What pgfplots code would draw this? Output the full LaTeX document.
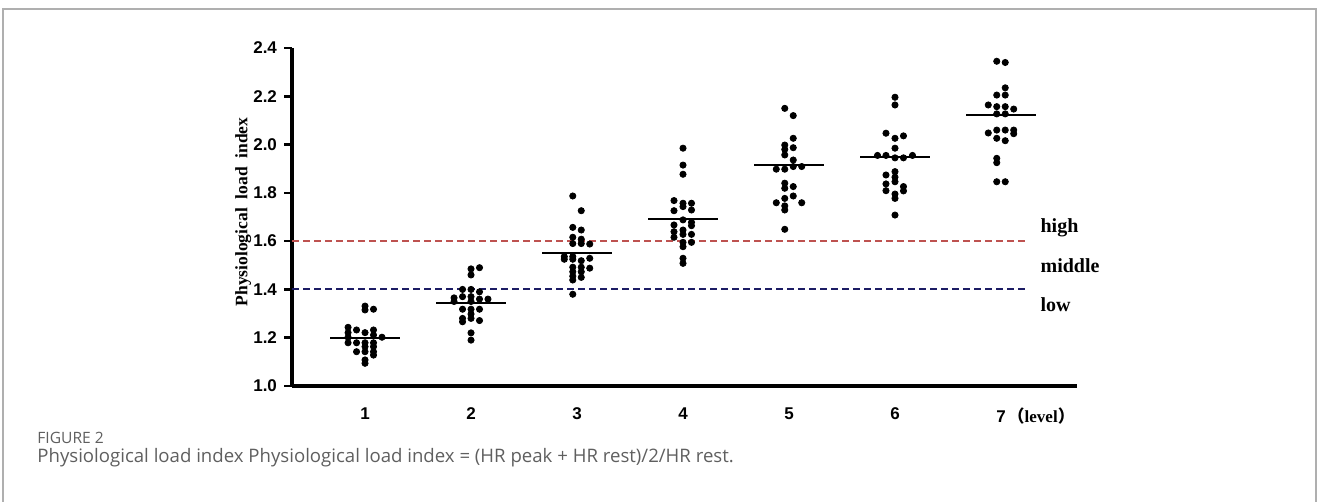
\documentclass[border=0pt]{standalone}
\usepackage{pgfplots}
\pgfplotsset{compat=1.18}
\usepackage{pgfplotstable}
\usepackage{fontspec}
\setmainfont{Liberation Serif}
\setsansfont{Liberation Sans}
\newfontfamily\capfont{Open Sans}
\newfontfamily\cjk{Noto Sans CJK SC}
\definecolor{highred}{RGB}{190,82,80}
\definecolor{lownavy}{RGB}{28,28,100}
\definecolor{capgray}{RGB}{95,95,95}
\definecolor{framegray}{RGB}{175,175,175}

\pgfplotstableread{
x y
1.00 1.331
1.00 1.315
1.08 1.318
0.84 1.243
0.92 1.232
1.08 1.232
0.84 1.221
1.00 1.221
1.08 1.211
0.84 1.202
1.16 1.202
0.84 1.179
0.92 1.179
1.00 1.179
1.08 1.179
1.00 1.163
1.08 1.163
0.92 1.142
1.00 1.142
1.08 1.142
1.08 1.128
1.00 1.108
1.00 1.094
}\gone
\pgfplotstableread{
x y
2.00 1.485
2.00 1.460
2.08 1.490
1.92 1.400
2.00 1.400
2.08 1.390
1.84 1.365
1.92 1.370
2.00 1.370
1.84 1.350
2.00 1.350
2.08 1.360
2.16 1.360
1.92 1.318
2.00 1.318
2.08 1.318
2.00 1.298
1.92 1.280
2.00 1.280
1.92 1.266
2.08 1.271
2.00 1.220
2.00 1.190
}\gtwo
\pgfplotstableread{
x y
2.96 1.787
3.04 1.726
2.96 1.657
3.04 1.646
2.96 1.616
3.04 1.608
2.96 1.590
3.04 1.590
3.12 1.588
2.88 1.536
2.88 1.525
2.96 1.536
2.96 1.525
3.04 1.519
3.12 1.529
2.96 1.492
3.04 1.492
3.12 1.488
2.96 1.473
3.04 1.473
2.96 1.455
3.04 1.450
2.96 1.439
2.96 1.380
}\gthree
\pgfplotstableread{
x y
4.00 1.985
4.00 1.915
4.00 1.877
3.915 1.768
4.00 1.757
4.08 1.757
4.00 1.743
3.915 1.726
4.08 1.729
4.00 1.688
4.08 1.678
4.08 1.664
3.915 1.667
4.00 1.646
3.915 1.639
4.00 1.628
4.08 1.628
3.915 1.616
4.00 1.595
4.08 1.595
4.00 1.577
4.00 1.529
4.00 1.508
}\gfour
\pgfplotstableread{
x y
4.96 2.150
5.04 2.120
5.04 2.026
4.96 1.998
5.04 1.987
4.96 1.980
4.96 1.957
5.04 1.936
4.88 1.898
4.96 1.898
5.04 1.909
5.12 1.909
4.96 1.840
4.96 1.819
5.04 1.826
4.88 1.759
4.96 1.777
4.96 1.746
5.04 1.787
5.12 1.759
4.96 1.729
4.96 1.649
}\gfive
\pgfplotstableread{
x y
6.00 2.196
6.00 2.164
5.915 2.047
6.08 2.036
6.00 2.026
6.00 1.985
5.835 1.955
5.915 1.955
6.00 1.945
6.08 1.945
6.165 1.955
6.00 1.888
5.915 1.874
6.00 1.865
6.00 1.846
5.915 1.837
6.08 1.826
5.915 1.809
6.08 1.808
6.00 1.795
6.00 1.777
6.00 1.708
}\gsix
\pgfplotstableread{
x y
6.96 2.345
7.04 2.340
7.04 2.235
6.96 2.205
7.04 2.205
6.88 2.164
6.96 2.157
7.04 2.157
7.12 2.147
6.96 2.127
7.04 2.127
6.88 2.048
6.96 2.060
7.04 2.060
7.12 2.060
7.12 2.045
6.96 2.026
7.04 2.016
6.96 1.943
6.96 1.925
6.96 1.846
7.04 1.846
}\gseven

\begin{document}
\begin{tikzpicture}
\useasboundingbox (0,0) rectangle (659.5pt,251pt);
\draw[framegray, line width=0.75pt] (1.5pt,0) -- (1.5pt,246.5pt) -- (658pt,246.5pt) -- (658pt,0);
\begin{axis}[
  at={(146pt,58pt)}, anchor=south west,
  scale only axis, width=392.5pt, height=169pt,
  xmin=0.311, xmax=7.717, ymin=1.0, ymax=2.4,
  axis lines=left,
  axis line style={line width=1.7pt, -},
  clip=false,
  xtick={1,2,3,4,5,6,7},
  xticklabels={1,2,3,4,5,6,{7\rlap{\hspace{1pt}{\cjk （}{\rmfamily\bfseries\fontsize{8.5}{10}\selectfont level}{\cjk ）}}}},
  ytick={1.0,1.2,1.4,1.6,1.8,2.0,2.2,2.4},
  x tick style={draw=none},
  y tick style={line width=1.3pt, black},
  major tick length=4pt,
  tick align=outside,
  /pgf/number format/.cd, fixed, fixed zerofill, precision=1, assume math mode=true,
  /pgfplots/.cd,
  yticklabel style={font=\sffamily\bfseries\fontsize{8.5}{10}\selectfont, xshift=0pt},
  xticklabel style={font=\sffamily\bfseries\fontsize{8.5}{10}\selectfont, yshift=-3.5pt},
  ylabel={Physiological~~load~~index},
  ylabel style={font=\rmfamily\bfseries\fontsize{8.75}{10}\selectfont, at={(axis description cs:-0.062,0.515)}, anchor=center},
]
\addplot[highred, line width=1pt, dash pattern=on 3.5pt off 2pt] coordinates {(0.311,1.6) (7.245,1.6)};
\addplot[lownavy, line width=1pt, dash pattern=on 3.5pt off 2pt] coordinates {(0.311,1.4) (7.245,1.4)};
\addplot[only marks, mark=*, mark size=1.55pt, black] table[x=x,y=y] {\gone};
\addplot[only marks, mark=*, mark size=1.55pt, black] table[x=x,y=y] {\gtwo};
\addplot[only marks, mark=*, mark size=1.55pt, black] table[x=x,y=y] {\gthree};
\addplot[only marks, mark=*, mark size=1.55pt, black] table[x=x,y=y] {\gfour};
\addplot[only marks, mark=*, mark size=1.55pt, black] table[x=x,y=y] {\gfive};
\addplot[only marks, mark=*, mark size=1.55pt, black] table[x=x,y=y] {\gsix};
\addplot[only marks, mark=*, mark size=1.55pt, black] table[x=x,y=y] {\gseven};
\addplot[black, line width=1pt] coordinates {(0.67,1.198) (1.33,1.198)};
\addplot[black, line width=1pt] coordinates {(1.67,1.345) (2.33,1.345)};
\addplot[black, line width=1pt] coordinates {(2.67,1.552) (3.33,1.552)};
\addplot[black, line width=1pt] coordinates {(3.67,1.692) (4.33,1.692)};
\addplot[black, line width=1pt] coordinates {(4.67,1.915) (5.33,1.915)};
\addplot[black, line width=1pt] coordinates {(5.67,1.950) (6.33,1.950)};
\addplot[black, line width=1pt] coordinates {(6.67,2.123) (7.33,2.123)};
\node[anchor=west, font=\rmfamily\bfseries\fontsize{10}{12}\selectfont, inner sep=0pt] at (axis cs:7.37,1.654) {high};
\node[anchor=west, font=\rmfamily\bfseries\fontsize{10}{12}\selectfont, inner sep=0pt] at (axis cs:7.37,1.500) {middle};
\node[anchor=west, font=\rmfamily\bfseries\fontsize{10}{12}\selectfont, inner sep=0pt] at (axis cs:7.37,1.336) {low};
\end{axis}
\node[anchor=base west, inner sep=0pt, text=capgray, font=\capfont\fontsize{7.8}{9}\selectfont] at (18.5pt,29.25pt) {FIGURE 2};
\node[anchor=base west, inner sep=0pt, text=capgray, font=\capfont\fontsize{9.3}{11}\selectfont] at (18.5pt,19.75pt) {Physiological load index Physiological load index = (HR peak + HR rest)/2/HR rest.};
\end{tikzpicture}
\end{document}
